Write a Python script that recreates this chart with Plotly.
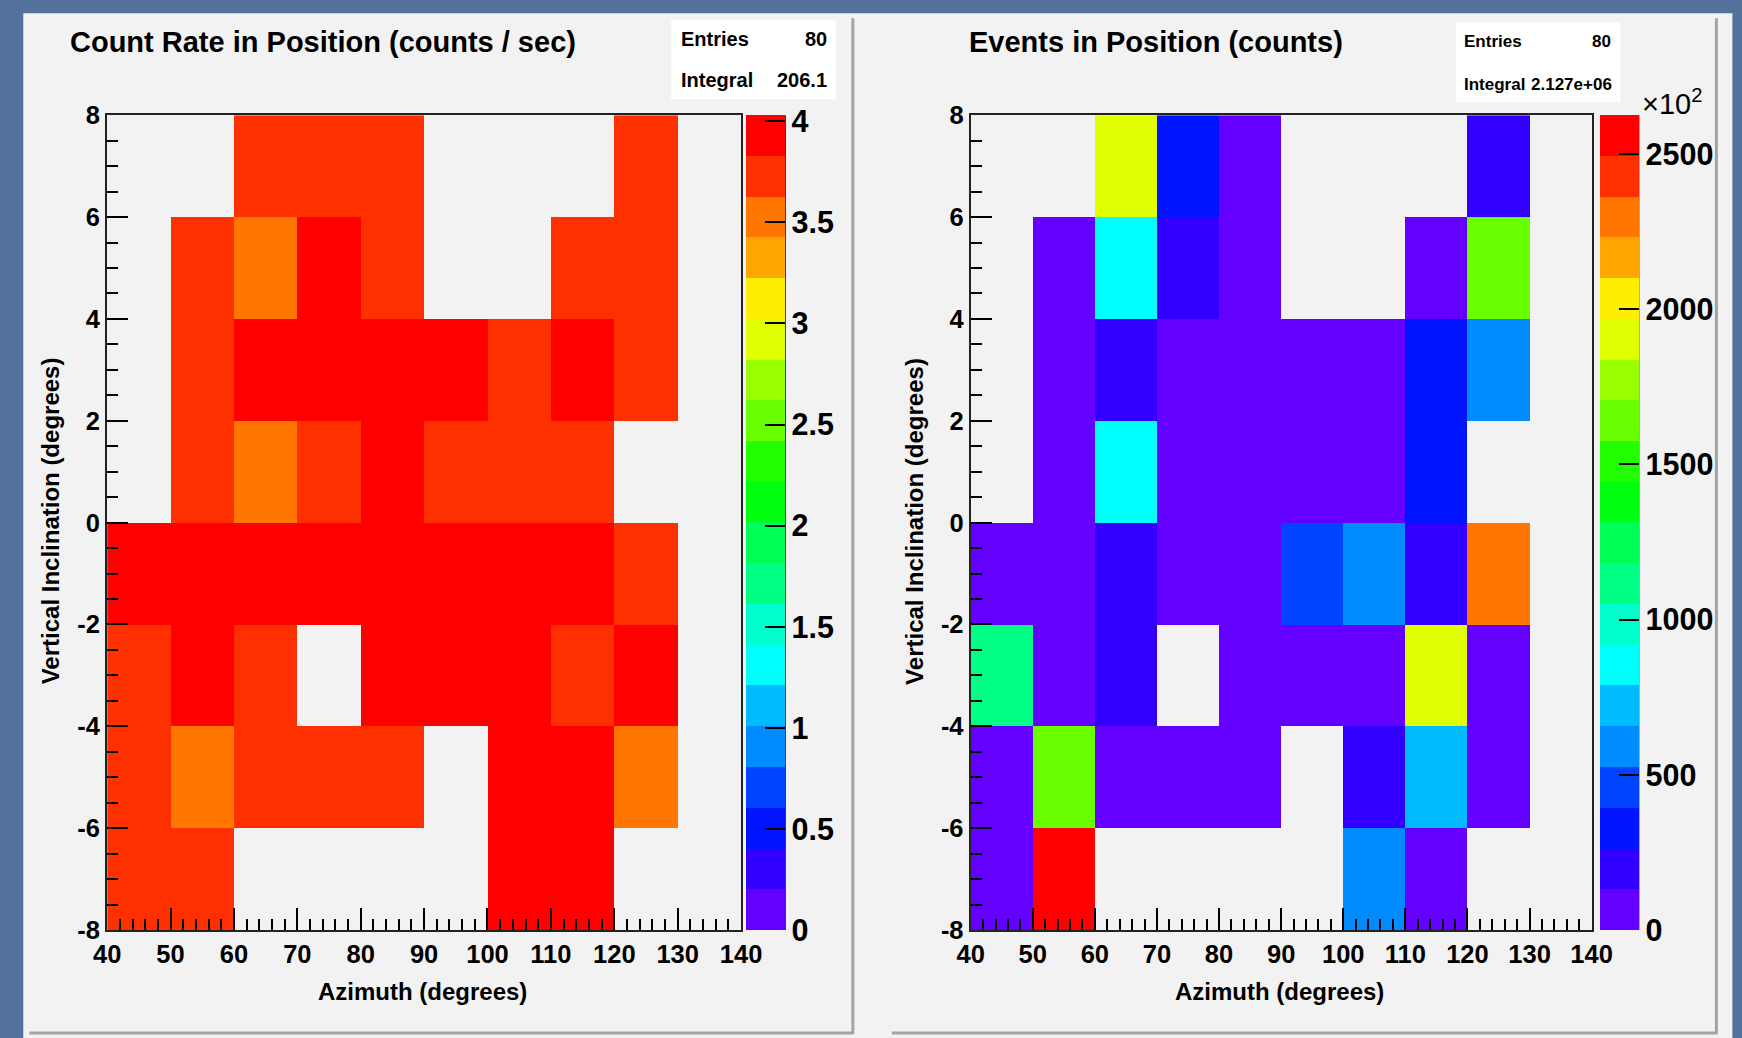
import colorsys
import plotly.graph_objects as go

# ---------------- data ----------------
azimuth_edges = [40, 50, 60, 70, 80, 90, 100, 110, 120, 130, 140]
inclination_edges = [-8, -6, -4, -2, 0, 2, 4, 6, 8]

x_tick_vals = [40, 50, 60, 70, 80, 90, 100, 110, 120, 130, 140]
x_tick_text = ["40", "50", "60", "70", "80", "90", "100", "110", "120", "130", "140"]
y_tick_vals = [-8, -6, -4, -2, 0, 2, 4, 6, 8]
y_tick_text = ["-8", "-6", "-4", "-2", "0", "2", "4", "6", "8"]

# Count rate (counts / sec); rows from inclination -8 (bottom) to +8 (top)
rate_row_m8 = [3.74, 3.72, None, None, None, None, 3.93, 3.90, None, None]
rate_row_m6 = [3.74, 3.55, 3.71, 3.76, 3.73, None, 3.91, 3.94, 3.57, None]
rate_row_m4 = [3.77, 3.92, 3.72, None, 3.90, 3.95, 3.93, 3.75, 3.91, None]
rate_row_m2 = [3.92, 3.95, 3.90, 3.94, 4.03, 3.91, 3.93, 3.97, 3.77, None]
rate_row_p0 = [None, 3.73, 3.60, 3.79, 3.90, 3.74, 3.76, 3.72, None, None]
rate_row_p2 = [None, 3.75, 3.94, 3.91, 3.96, 3.92, 3.78, 3.93, 3.73, None]
rate_row_p4 = [None, 3.77, 3.58, 3.92, 3.74, None, None, 3.76, 3.79, None]
rate_row_p6 = [None, None, 3.75, 3.78, 3.73, None, None, None, 3.74, None]
rate_z = [rate_row_m8, rate_row_m6, rate_row_m4, rate_row_m2,
          rate_row_p0, rate_row_p2, rate_row_p4, rate_row_p6]

# Events (counts)
ev_row_m8 = [4200, 262500, None, None, None, None, 58500, 3600, None, None]
ev_row_m6 = [3900, 163500, 2800, 3100, 4400, None, 19800, 71500, 3500, None]
ev_row_m4 = [110500, 4100, 20500, None, 3300, 2900, 3800, 189500, 5100, None]
ev_row_m2 = [3700, 4300, 19200, 3400, 2600, 46500, 59500, 18800, 229500, None]
ev_row_p0 = [None, 3800, 85500, 3200, 2700, 3000, 4100, 33500, None, None]
ev_row_p2 = [None, 4000, 19600, 3600, 3300, 2800, 4500, 32500, 59000, None]
ev_row_p4 = [None, 4400, 84500, 19100, 5900, None, None, 5800, 164500, None]
ev_row_p6 = [None, None, 190500, 33000, 6200, None, None, None, 19500, None]
events_z = [ev_row_m8, ev_row_m6, ev_row_m4, ev_row_m2,
            ev_row_p0, ev_row_p2, ev_row_p4, ev_row_p6]

rate_cbar_vals = [0, 0.5, 1, 1.5, 2, 2.5, 3, 3.5, 4]
rate_cbar_text = ["0", "0.5", "1", "1.5", "2", "2.5", "3", "3.5", "4"]
ev_cbar_vals = [0, 50000, 100000, 150000, 200000, 250000]
ev_cbar_text = ["0", "500", "1000", "1500", "2000", "2500"]

# ---------------- style / geometry ----------------
# measured mapping between paper fractions and the photographed page
AX, BX = 0.982, 12.7
AY, BY = 0.974, 12.8
W, H = 1780, 1070
FONT = "Liberation Sans, Arial, Helvetica, sans-serif"
PAD = "#f2f2f2"
BLUE = "#52719b"


def fx(s):
    return ((s - BX) / AX) / W


def fy(s):
    return 1 - ((s - BY) / AY) / H


def root_palette(nlev=20):
    cols = []
    for j in range(nlev):
        idx = int((j + 0.99) * 50 / nlev)
        hue = 280 - (idx + 1) * 5.6
        r, g, b = colorsys.hls_to_rgb(hue / 360.0, 0.5, 1.0)
        cols.append("rgb(%d,%d,%d)" % (round(r * 255), round(g * 255), round(b * 255)))
    return cols


pal = root_palette()
cscale = []
for j, c in enumerate(pal):
    cscale.append([j / 20, c])
    cscale.append([(j + 1) / 20, c])


def flat_max(z):
    return max(v for row in z for v in row if v is not None)


PT, PB = 114, 929
cbfont = dict(family=FONT, size=30.5, color="black", weight="bold")


def cbar(xpix, vals, text):
    return dict(
        x=fx(xpix), xanchor="left", xpad=0, y=fy(PT), yanchor="top", ypad=0,
        lenmode="fraction", len=fy(PT) - fy(PB), thicknessmode="pixels", thickness=39,
        outlinewidth=0, borderwidth=0,
        tickmode="array", tickvals=vals, ticktext=text,
        ticks="inside", ticklen=20, tickwidth=1.5, tickcolor="black",
        tickfont=cbfont,
    )


fig = go.Figure()
fig.add_trace(go.Heatmap(
    x=azimuth_edges, y=inclination_edges, z=rate_z,
    colorscale=cscale, zmin=0, zmax=flat_max(rate_z),
    xaxis="x", yaxis="y", hoverinfo="skip",
    colorbar=cbar(746, rate_cbar_vals, rate_cbar_text),
))
fig.add_trace(go.Heatmap(
    x=azimuth_edges, y=inclination_edges, z=events_z,
    colorscale=cscale, zmin=0, zmax=flat_max(events_z),
    xaxis="x2", yaxis="y2", hoverinfo="skip",
    colorbar=cbar(1601, ev_cbar_vals, ev_cbar_text),
))

tickfont = dict(family=FONT, size=25.5, color="black", weight="bold")


def xax(dom, anchor):
    return dict(domain=dom, anchor=anchor, range=[40, 140],
                tickmode="array", tickvals=x_tick_vals, ticktext=x_tick_text,
                ticks="inside", ticklen=22, tickwidth=1.5, tickcolor="black",
                minor=dict(ticks="inside", tickmode="linear", dtick=2, tick0=40, ticklen=11,
                           tickwidth=1.5, tickcolor="black"),
                showline=True, linecolor="#222", linewidth=2, mirror=True,
                showgrid=False, zeroline=False, tickfont=tickfont, fixedrange=True)


def yax(anchor):
    return dict(domain=[fy(PB), fy(PT)], anchor=anchor, range=[-8, 8],
                tickmode="array", tickvals=y_tick_vals, ticktext=y_tick_text,
                ticks="inside", ticklen=21, tickwidth=1.5, tickcolor="black",
                minor=dict(ticks="inside", tickmode="linear", dtick=0.5, tick0=-8, ticklen=11,
                           tickwidth=1.5, tickcolor="black"),
                showline=True, linecolor="#222", linewidth=2, mirror=True,
                showgrid=False, zeroline=False, tickfont=tickfont, fixedrange=True)


shapes = []
# canvas
shapes.append(dict(type="rect", xref="paper", yref="paper", x0=fx(22), x1=fx(1734), y0=fy(1060), y1=fy(12),
                   fillcolor=PAD, line=dict(width=0), layer="below"))
for (a, b) in [(28, 853), (892, 1718)]:
    shapes.append(dict(type="rect", xref="paper", yref="paper", x0=fx(a), x1=fx(b), y0=fy(1031), y1=fy(17),
                       fillcolor=PAD, line=dict(width=0), layer="below"))
    shapes.append(dict(type="line", xref="paper", yref="paper", x0=fx(a), x1=fx(b + 1), y0=fy(1032), y1=fy(1032),
                       line=dict(color="#a3a3a3", width=3), layer="below"))
    shapes.append(dict(type="line", xref="paper", yref="paper", x0=fx(b), x1=fx(b), y0=fy(1032), y1=fy(17),
                       line=dict(color="#a3a3a3", width=3), layer="below"))
# stats boxes
shapes.append(dict(type="rect", xref="paper", yref="paper", x0=fx(671), x1=fx(836), y0=fy(98), y1=fy(19),
                   fillcolor="white", line=dict(width=0), layer="below"))
shapes.append(dict(type="rect", xref="paper", yref="paper", x0=fx(1457), x1=fx(1622), y0=fy(101), y1=fy(21),
                   fillcolor="white", line=dict(width=0), layer="below"))
# colorbar axis lines
for xr in (785, 1640):
    shapes.append(dict(type="line", xref="paper", yref="paper", x0=fx(xr), x1=fx(xr), y0=fy(PB), y1=fy(PT),
                       line=dict(color="black", width=1.5), layer="above"))


def ann(text, x, y, size, xanchor="center", bold=True, angle=0):
    return dict(text=text, x=fx(x), y=fy(y), xref="paper", yref="paper", xanchor=xanchor, yanchor="middle",
                showarrow=False, textangle=angle,
                font=dict(family=FONT, size=size, color="black", weight="bold" if bold else "normal"))


annotations = [
    ann("Count Rate in Position (counts / sec)", 322, 41, 29),
    ann("Events in Position (counts)", 1157, 41, 29),
    ann("Azimuth (degrees)", 422, 990, 24),
    ann("Azimuth (degrees)", 1280, 990, 24),
    ann("Vertical Inclination (degrees)", 49, 520, 24, angle=-90),
    ann("Vertical Inclination (degrees)", 914, 520, 24, angle=-90),
    ann("Entries", 679, 38, 20, "left"),
    ann("80", 829, 38, 20, "right"),
    ann("Integral", 679, 79, 20, "left"),
    ann("206.1", 829, 79, 20, "right"),
    ann("Entries", 1463, 40, 17, "left"),
    ann("80", 1614, 40, 17, "right"),
    ann("Integral", 1463, 83, 17, "left"),
    ann("2.127e+06", 1615, 83, 17, "right"),
    dict(text="\u00d710<sup>2</sup>", x=fx(1641), y=fy(101), xref="paper", yref="paper", xanchor="left",
         yanchor="middle", showarrow=False, font=dict(family=FONT, size=29, color="black")),
]

fig.update_layout(
    width=W, height=H, autosize=False, margin=dict(l=0, r=0, t=0, b=0, pad=0),
    paper_bgcolor=BLUE, plot_bgcolor=PAD,
    xaxis=xax([fx(106), fx(741)], "y"),
    yaxis=yax("x"),
    xaxis2=xax([fx(971), fx(1593)], "y2"),
    yaxis2=yax("x2"),
    shapes=shapes, annotations=annotations, showlegend=False,
    font=dict(family=FONT),
)

fig.write_html(
    "out.html",
    config={"responsive": False, "displayModeBar": False},
    post_script="document.body.style.background='" + BLUE + "';document.body.style.overflow='hidden';",
)
